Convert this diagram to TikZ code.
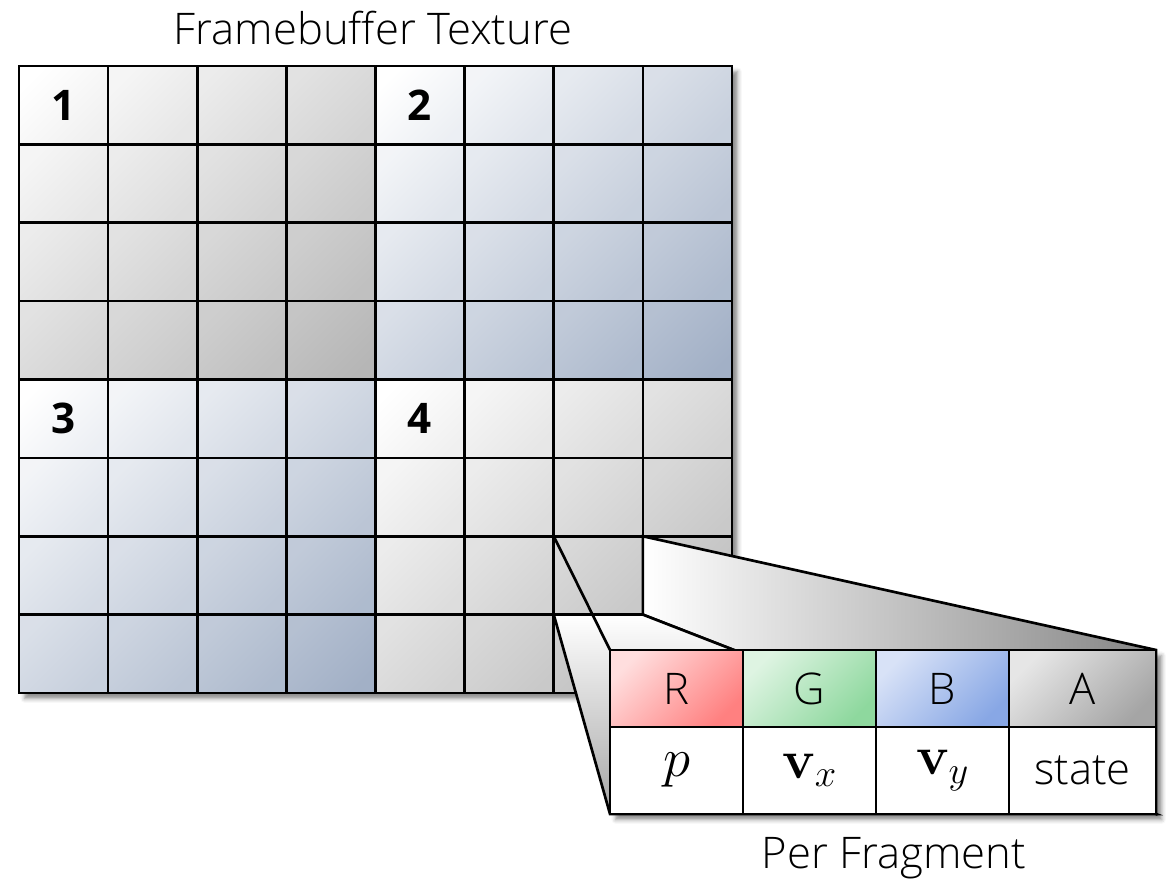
\documentclass[tikz,border=0pt]{standalone}
\usepackage{fix-cm}
\usepackage{amsmath}
\usepackage[no-math]{fontspec}
\setmainfont{Open Sans}
\IfFontExistsTF{Open Sans Light}{\newfontfamily\thinfont{Open Sans Light}}{\newfontfamily\thinfont{Open Sans}}
\usetikzlibrary{positioning,shadows.blur}
\definecolor{GridGray}{RGB}{182,182,182}
\definecolor{GridBlue}{RGB}{162,176,198}
\definecolor{RLight}{RGB}{255,222,222}
\definecolor{RDark}{RGB}{255,128,128}
\definecolor{GLight}{RGB}{222,244,226}
\definecolor{GDark}{RGB}{142,216,158}
\definecolor{BLight}{RGB}{216,226,247}
\definecolor{BDark}{RGB}{136,167,229}
\definecolor{ALight}{RGB}{230,230,230}
\definecolor{ADark}{RGB}{165,165,165}
\def\pxl{0.025cm}
\tikzset{
	gridline/.style={line width=1.9pt, line cap=rect},
	softshadow/.style={blur shadow={shadow xshift=4pt, shadow yshift=-4pt, shadow blur radius=3pt, shadow opacity=45}},
	digit/.style={font=\fontsize{30}{36}\selectfont\bfseries},
	caption/.style={font=\thinfont\fontsize{31}{36}\selectfont},
	chan/.style={draw, line width=1.9pt, inner sep=0pt, outer sep=0pt, minimum width=133*\pxl, minimum height=77*\pxl, font=\thinfont\fontsize{31}{36}\selectfont},
	val/.style={chan, fill=white, minimum height=87*\pxl, font=\fontsize{39}{44}\selectfont}
}
\begin{document}
\begin{tikzpicture}[x=\pxl, y=-\pxl]
	\useasboundingbox (0,0) rectangle (1168,885);
	\path[fill=white, softshadow] (19,66) rectangle (732,693);
	\foreach \r in {0,...,7}
		\foreach \c in {0,...,7}{
			\pgfmathtruncatemacro{\qd}{(\r<4)+(\c<4)}
			\ifodd\qd \def\qc{GridBlue}\else\def\qc{GridGray}\fi
			\pgfmathsetmacro{\ta}{100*(mod(\r,4)+mod(\c,4))/7.5}
			\pgfmathsetmacro{\tb}{min(\ta+20,100)}
			\shade[top color=\qc!\ta!white, bottom color=\qc!\tb!white, shading angle=45] (19+\c*89.125,66+\r*78.375) rectangle ++(89.125,78.375);
		}
	\foreach \i in {0,...,8}{
		\draw[gridline] (19+\i*89.125,66) -- (19+\i*89.125,693);
		\draw[gridline] (19,66+\i*78.375) -- (732,66+\i*78.375);
	}
	\foreach \n/\c/\r in {1/0/0,2/4/0,3/0/4,4/4/4}
		\node[digit] (q\n) at (19+\c*89.125+44.5,66+\r*78.375+39.2) {\n};
	\node[caption] (title) at (373,28) {Framebuffer Texture};

	\node[inner sep=0pt, outer sep=0pt, minimum width=89.125*\pxl, minimum height=78.375*\pxl] (zoomcell) at (19+6.5*89.125,66+6.5*78.375) {};
	\coordinate (tnw) at (610,650);
	\coordinate (tne) at (1156,650);
	\coordinate (tse) at (1156,814);
	\coordinate (tsw) at (610,814);
	\shade[draw, line width=1.9pt, left color=white, right color=black!48] (zoomcell.north east) -- (tne) -- (tse) -- (zoomcell.south east) -- cycle;
	\shade[draw, line width=1.9pt, top color=white, bottom color=black!35] (zoomcell.south west) -- (zoomcell.south east) -- (tse) -- (tsw) -- cycle;
	\draw[line width=1.9pt] (zoomcell.north west) -- (tnw);

	\path[fill=white, softshadow] (tnw) rectangle (tse);
	\node[chan, anchor=north west, top color=RLight, bottom color=RDark, shading angle=45] (hR) at (tnw) {R};
	\node[chan, right=0pt of hR, top color=GLight, bottom color=GDark, shading angle=45] (hG) {G};
	\node[chan, right=0pt of hG, top color=BLight, bottom color=BDark, shading angle=45] (hB) {B};
	\node[chan, right=0pt of hB, minimum width=147*\pxl, top color=ALight, bottom color=ADark, shading angle=45] (hA) {A};
	\node[val, below=0pt of hR] (bR) {$p$};
	\node[val, below=0pt of hG] (bG) {$\mathbf{v}_x$};
	\node[val, below=0pt of hB] (bB) {$\mathbf{v}_y$};
	\node[val, below=0pt of hA, minimum width=147*\pxl, font=\thinfont\fontsize{31}{36}\selectfont] (bA) {state};
	\node[caption] (perfrag) at (894,858) {Per Fragment};
\end{tikzpicture}
\end{document}
